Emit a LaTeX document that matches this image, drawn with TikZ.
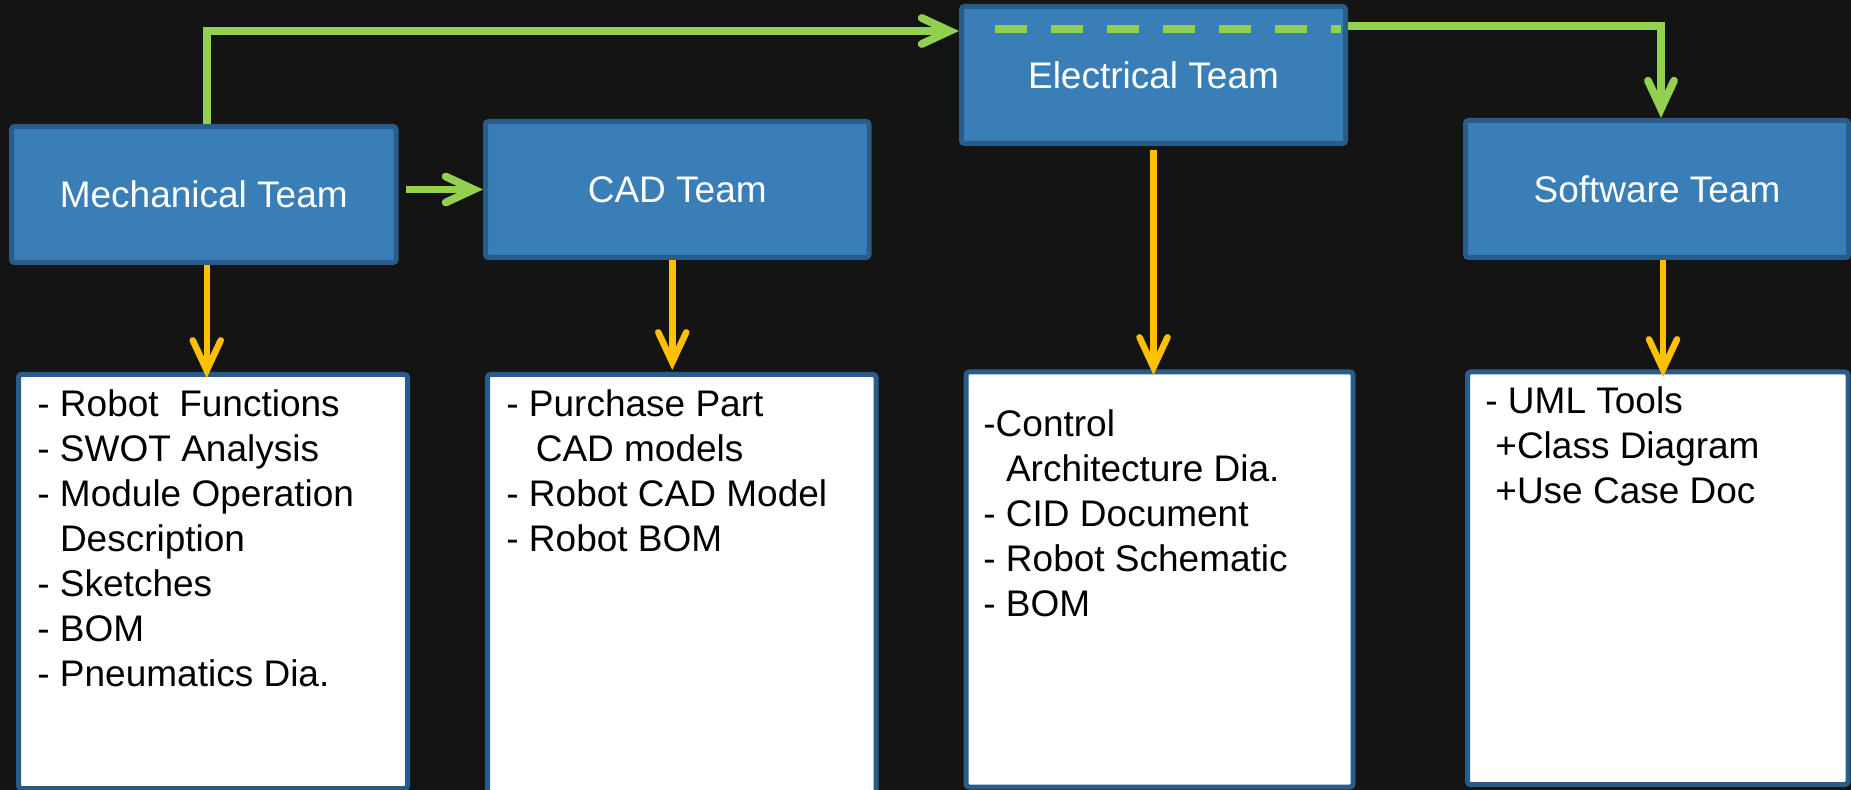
\documentclass[tikz,border=0pt]{standalone}
\usepackage{fontspec}
\setmainfont{Liberation Sans}
\usetikzlibrary{arrows.meta,calc}

\definecolor{bgdark}{HTML}{141414}
\definecolor{teamfill}{HTML}{3A7EB8}
\definecolor{teamedge}{HTML}{2A5C8A}
\definecolor{flowgreen}{HTML}{92D050}
\definecolor{flowgold}{HTML}{FFC000}

\tikzset{
  team/.style={draw=teamedge, fill=teamfill, line width=2.5pt, rounded corners=1.5pt,
    text=white, font=\fontsize{18.5pt}{22pt}\selectfont, inner sep=0pt},
  itembox/.style={draw=teamedge, fill=white, line width=2.5pt, rounded corners=1.5pt, inner sep=0pt},
  % lists are placed by the baseline of their last line
  items/.style={anchor=base west, align=left, inner sep=0pt, text=black,
    font=\fontsize{18.5pt}{22.45pt}\selectfont},
  gflow/.style={draw=flowgreen, line width=3.9pt,
    -{Straight Barb[length=14pt,width=13pt,line cap=round,line join=miter]}},
  gdash/.style={draw=flowgreen, line width=3.9pt, dash pattern=on 16pt off 12pt},
  yflow/.style={draw=flowgold, line width=3.25pt,
    -{Straight Barb[length=15pt,width=14pt,line cap=round,line join=miter]}}
}

\begin{document}
\begin{tikzpicture}[x=0.5pt, y=-0.5pt]
  \useasboundingbox (0,0) rectangle (1851,790);
  \fill[bgdark] (0,0) rectangle (1851,790);

  % team boxes
  \node[team, minimum width=192.25pt, minimum height=68pt]   (mech) at (203.75,194.5) {Mechanical Team};
  \node[team, minimum width=191.75pt, minimum height=68pt]   (cad)  at (677.25,189.5) {CAD Team};
  \node[team, minimum width=192pt,    minimum height=68.5pt] (elec) at (1153.5,75)    {Electrical Team};
  \node[team, minimum width=191.5pt,  minimum height=68.5pt] (soft) at (1657,189)     {Software Team};

  % deliverable boxes
  \node[itembox, minimum width=194.5pt,  minimum height=207pt]    (b1) at (213,581.5)     {};
  \node[itembox, minimum width=194.25pt, minimum height=212.75pt] (b2) at (681.75,587.25) {};
  \node[itembox, minimum width=193.5pt,  minimum height=207.5pt]  (b3) at (1159.5,579.5)  {};
  \node[itembox, minimum width=190.25pt, minimum height=206.25pt] (b4) at (1657.75,578.25) {};

  % deliverable lists
  \node[items] (t1) at (37,686.1) {- Robot\ \ Functions\\- SWOT Analysis\\- Module Operation\\\hphantom{-\ }Description\\- Sketches\\- BOM\\- Pneumatics Dia.};
  \node[items] (t2) at (506,551.4) {- Purchase Part\\\hspace*{14.7pt}CAD models\\- Robot CAD Model\\- Robot BOM};
  \node[items] (t3) at (983,616.3) {-Control\\\hphantom{-\ }Architecture Dia.\\- CID Document\\- Robot Schematic\\- BOM};
  \node[items] (t4) at (1485,503.1) {- UML Tools\\\hspace*{5pt}+Class Diagram\\\hspace*{5pt}+Use Case Doc};

  % hand-offs between teams
  \draw[gflow] ([xshift=1.5pt]mech.north) |- ($(elec.north west)+(0,27)$);
  \draw[gdash] ($(elec.north west)+(36,25)$) -- ($(elec.north east)+(-7,25)$);
  \draw[gflow] ($(elec.north east)+(0,22)$) -| ([xshift=2pt]soft.north);
  \draw[gflow] ([xshift=3.5pt]mech.east |- cad.west) -- (cad.west);

  % outputs of each team
  \draw[yflow, shorten >=-3pt] ([xshift=1.5pt]mech.south) -- ([xshift=1.5pt]mech.south |- b1.north);
  \draw[yflow, shorten >=1pt] ([xshift=-2.5pt]cad.south) -- ([xshift=-2.5pt]cad.south |- b2.north);
  \draw[yflow, shorten <=2pt, shorten >=-2.75pt] (elec.south) -- (elec.south |- b3.north);
  \draw[yflow, shorten >=-3.75pt] ([xshift=3pt]soft.south) -- ([xshift=3pt]soft.south |- b4.north);
\end{tikzpicture}
\end{document}
